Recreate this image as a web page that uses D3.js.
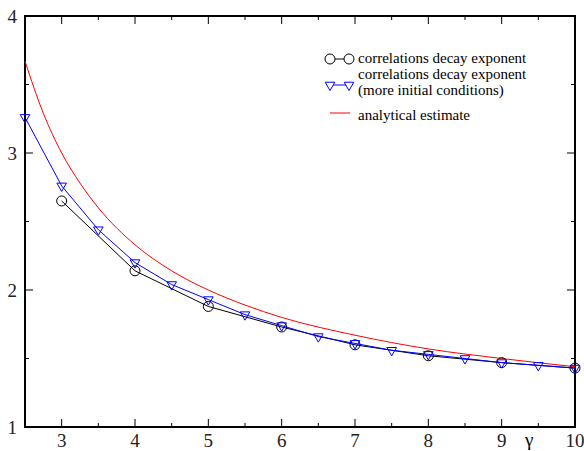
<!DOCTYPE html>
<html>
<head>
<meta charset="utf-8">
<script src="https://cdn.jsdelivr.net/npm/d3@7"></script>
<style>
  body { margin: 0; background: #fff; }
  svg text { font-family: 'Liberation Serif', 'Times New Roman', serif !important; }
</style>
</head>
<body>
<svg id="chart" width="584" height="451"></svg>
<script>
  // decay exponent vs gamma
  const gammaCircles = [3, 4, 5, 6, 7, 8, 9, 10];
  const expCircles = [2.65, 2.14, 1.88, 1.73, 1.60, 1.52, 1.47, 1.43];

  const gammaTriangles = [2.5, 3, 3.5, 4, 4.5, 5, 5.5, 6, 6.5, 7, 7.5, 8, 8.5, 9, 9.5, 10];
  const expTriangles = [3.26, 2.76, 2.44, 2.20, 2.04, 1.93, 1.82, 1.74, 1.66, 1.61, 1.56, 1.53, 1.50, 1.47, 1.45, 1.43];

  const gammaEstimate = [2.5, 2.75, 3, 3.25, 3.5, 4, 4.5, 5, 5.5, 6, 7, 8, 9, 10];
  const expEstimate = [3.67, 3.29, 3.0, 2.78, 2.6, 2.33, 2.14, 2.0, 1.89, 1.8, 1.67, 1.57, 1.5, 1.44];

  const xTicks = [3, 4, 5, 6, 7, 8, 9, 10];
  const yTicks = [1, 2, 3, 4];

  const legendLabels = [
    ['correlations decay exponent'],
    ['correlations decay exponent', '(more initial conditions)'],
    ['analytical estimate']
  ];

  const FONT = "'Liberation Serif', 'Times New Roman', serif";
  const margin = {left: 25, right: 9, top: 16, bottom: 24};
  const width = 584, height = 451;

  const svg = d3.select('#chart');

  const x = d3.scaleLinear().domain([2.5, 10]).range([margin.left, width - margin.right]);
  const y = d3.scaleLinear().domain([1, 4]).range([height - margin.bottom, margin.top]);

  const plot = svg.append('g');

  const xMinor = d3.range(2.5, 10.01, 0.5).filter(v => !Number.isInteger(v));
  const yMinor = [1.5, 2.5, 3.5];

  function ticks(axis, vals, len) {
    vals.forEach(v => {
      if (axis === 'x') {
        plot.append('line').attr('x1', x(v)).attr('x2', x(v))
          .attr('y1', y(1)).attr('y2', y(1) - len).attr('stroke', '#000');
        plot.append('line').attr('x1', x(v)).attr('x2', x(v))
          .attr('y1', y(4)).attr('y2', y(4) + len).attr('stroke', '#000');
      } else {
        plot.append('line').attr('y1', y(v)).attr('y2', y(v))
          .attr('x1', x(2.5)).attr('x2', x(2.5) + len).attr('stroke', '#000');
        plot.append('line').attr('y1', y(v)).attr('y2', y(v))
          .attr('x1', x(10)).attr('x2', x(10) - len).attr('stroke', '#000');
      }
    });
  }
  ticks('x', xTicks, 8);
  ticks('x', xMinor, 4);
  ticks('y', yTicks, 8);
  ticks('y', yMinor, 4);

  plot.append('rect')
    .attr('x', x(2.5)).attr('y', y(4))
    .attr('width', x(10) - x(2.5)).attr('height', y(1) - y(4))
    .attr('fill', 'none').attr('stroke', '#000').attr('stroke-width', 2);

  svg.selectAll('.xlab').data(xTicks).enter().append('text')
    .attr('x', d => x(d)).attr('y', height - 4)
    .attr('text-anchor', 'middle').attr('font-size', 19).attr('fill', '#222')
    .style('font-family', FONT, 'important')
    .text(d => d);

  svg.selectAll('.ylab').data(yTicks).enter().append('text')
    .attr('x', 17).attr('y', d => y(d) + 7)
    .attr('text-anchor', 'end').attr('font-size', 19).attr('fill', '#222')
    .style('font-family', FONT, 'important')
    .text(d => d);

  svg.append('text').attr('x', 525).attr('y', 446)
    .attr('font-size', 19).style('font-family', FONT, 'important').text('γ');

  const line = d3.line().x(d => x(d[0])).y(d => y(d[1]));

  svg.append('path')
    .datum(gammaEstimate.map((g, i) => [g, expEstimate[i]]))
    .attr('d', line.curve(d3.curveMonotoneX))
    .attr('fill', 'none').attr('stroke', '#ff0000').attr('stroke-width', 1);

  const lineLin = d3.line().x(d => x(d[0])).y(d => y(d[1]));

  const circ = gammaCircles.map((g, i) => [g, expCircles[i]]);
  svg.append('path').datum(circ).attr('d', lineLin)
    .attr('fill', 'none').attr('stroke', '#000').attr('stroke-width', 1);
  svg.selectAll('.circ').data(circ).enter().append('circle')
    .attr('cx', d => x(d[0])).attr('cy', d => y(d[1])).attr('r', 5)
    .attr('fill', 'none').attr('stroke', '#000').attr('stroke-width', 1);

  const tri = gammaTriangles.map((g, i) => [g, expTriangles[i]]);
  const triSym = d3.symbol().type(d3.symbolTriangle).size(40);
  svg.append('path').datum(tri).attr('d', lineLin)
    .attr('fill', 'none').attr('stroke', '#0000ff').attr('stroke-width', 1);
  svg.selectAll('.tri').data(tri).enter().append('path')
    .attr('d', triSym)
    .attr('transform', d => `translate(${x(d[0])},${y(d[1])}) rotate(180)`)
    .attr('fill', 'none').attr('stroke', '#0000ff').attr('stroke-width', 1);

  // legend
  const lg = svg.append('g');
  function legendText(tx, ty, t) {
    lg.append('text').attr('x', tx).attr('y', ty)
      .attr('font-size', 15).style('font-family', FONT, 'important')
      .text(t);
  }
  lg.append('line').attr('x1', 330).attr('x2', 349).attr('y1', 59).attr('y2', 59).attr('stroke', '#000');
  [330, 349].forEach(cx => lg.append('circle').attr('cx', cx).attr('cy', 59).attr('r', 5)
    .attr('fill', '#fff').attr('stroke', '#000'));
  legendText(358, 63, legendLabels[0][0]);

  lg.append('line').attr('x1', 330).attr('x2', 349).attr('y1', 85).attr('y2', 85).attr('stroke', '#0000ff');
  [330, 349].forEach(cx => lg.append('path').attr('d', triSym)
    .attr('transform', `translate(${cx},85) rotate(180)`)
    .attr('fill', '#fff').attr('stroke', '#0000ff'));
  legendLabels[1].forEach((t, i) => legendText(358, 79 + i * 16, t));

  lg.append('line').attr('x1', 330).attr('x2', 350).attr('y1', 113).attr('y2', 113).attr('stroke', '#ff0000');
  legendText(358, 120, legendLabels[2][0]);
</script>
</body>
</html>
